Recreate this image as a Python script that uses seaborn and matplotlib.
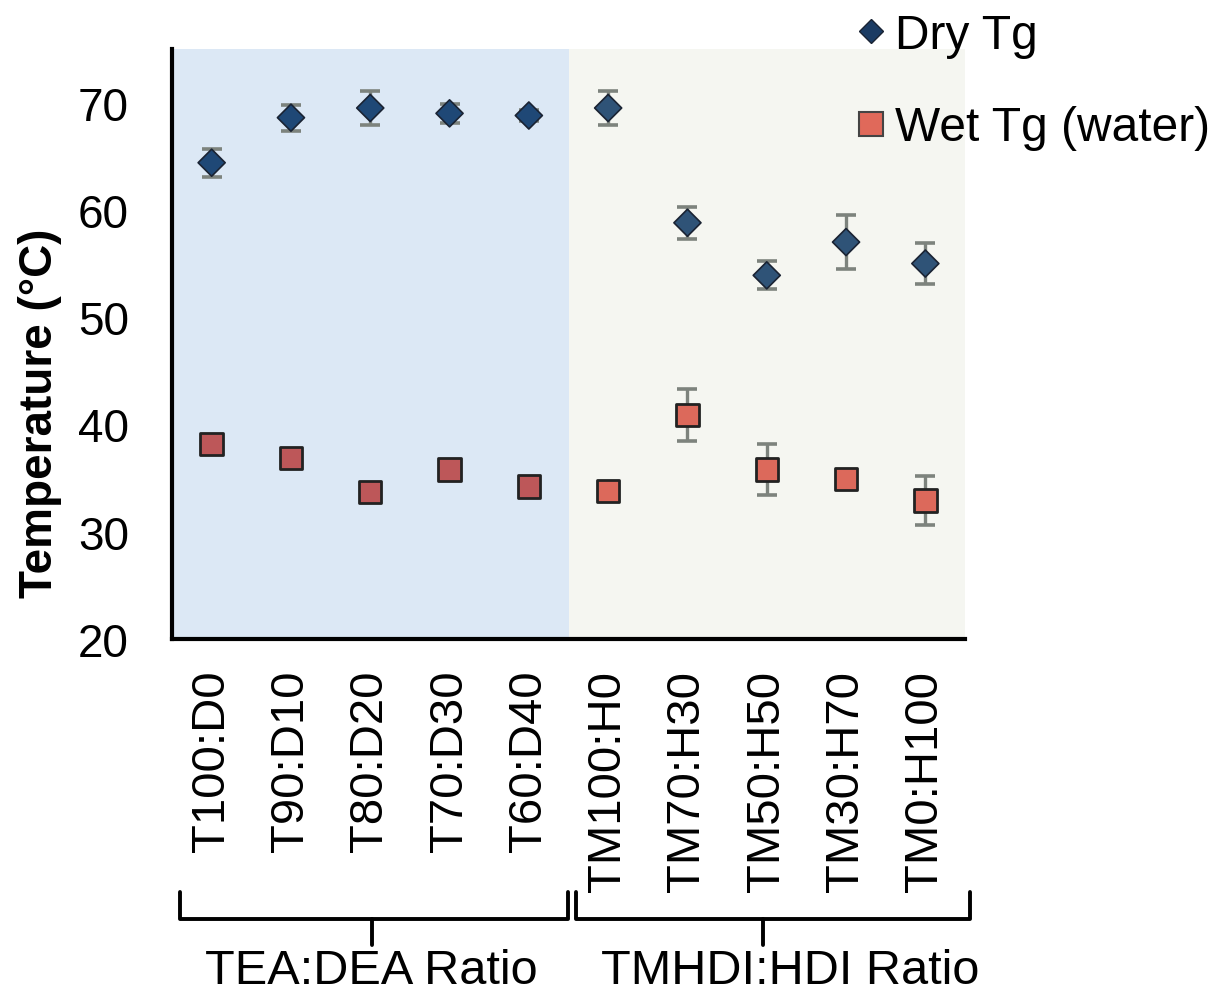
import numpy as np
import pandas as pd
import matplotlib
matplotlib.use("Agg")
import matplotlib.pyplot as plt
import matplotlib.transforms as mtransforms
from matplotlib.lines import Line2D
import seaborn as sns

categories = ["T100:D0", "T90:D10", "T80:D20", "T70:D30", "T60:D40",
              "TM100:H0", "TM70:H30", "TM50:H50", "TM30:H70", "TM0:H100"]
groups = ["TEA:DEA"] * 5 + ["TMHDI:HDI"] * 5
dry_tg = [64.4, 68.6, 69.5, 69.0, 68.8, 69.5, 58.8, 53.9, 57.0, 55.0]
dry_err = [1.3, 1.2, 1.6, 0.9, 0.5, 1.6, 1.5, 1.3, 2.5, 1.9]
wet_tg = [38.2, 36.9, 33.7, 35.8, 34.2, 33.8, 40.9, 35.8, 34.9, 32.9]
wet_err = [0.5, 0.2, 0.5, 0.2, 0.2, 0.3, 2.4, 2.4, 0.2, 2.3]
group_labels = ["TEA:DEA Ratio", "TMHDI:HDI Ratio"]
series_names = ["Dry Tg", "Wet Tg (water)"]

df = pd.DataFrame({
    "category": categories * 2,
    "group": groups * 2,
    "value": dry_tg + wet_tg,
    "err": dry_err + wet_err,
    "series": [series_names[0]] * len(categories) + [series_names[1]] * len(categories),
})

sns.set_style("white")
plt.rcParams["font.family"] = ["Liberation Sans", "DejaVu Sans"]
plt.rcParams["text.color"] = "black"
plt.rcParams["xtick.color"] = "black"
plt.rcParams["ytick.color"] = "black"
plt.rcParams["axes.labelcolor"] = "black"

fig = plt.figure(figsize=(12.17, 9.95), dpi=100)
ax = fig.add_axes([172 / 1217, 1 - 640 / 995, (965 - 172) / 1217, (640 - 50) / 995])

n = len(categories)
ax.axvspan(-0.5, 4.5, color="#dce8f5", zorder=0, lw=0)
ax.axvspan(4.5, n - 0.5, color="#f5f6f1", zorder=0, lw=0)

xpos = np.arange(n)
ax.errorbar(xpos, dry_tg, yerr=dry_err, fmt="none", ecolor="#7d837d",
            elinewidth=2.4, capsize=7, capthick=2.6, zorder=2)
ax.errorbar(xpos, wet_tg, yerr=wet_err, fmt="none", ecolor="#7d837d",
            elinewidth=2.4, capsize=7, capthick=2.6, zorder=2)

sns.scatterplot(data=df[df.series == series_names[0]], x="category", y="value",
                hue="group", palette={"TEA:DEA": "#1f4876", "TMHDI:HDI": "#2f5377"},
                marker="D", s=190, edgecolor="#1a2333",
                linewidth=1.2, ax=ax, zorder=3, legend=False)
sns.scatterplot(data=df[df.series == series_names[1]], x="category", y="value",
                hue="group", palette={"TEA:DEA": "#bd5759", "TMHDI:HDI": "#dc695b"},
                marker="s", s=260, edgecolor="#222222",
                linewidth=2.0, ax=ax, zorder=3, legend=False)

ax.set_xlim(-0.5, n - 0.5)
ax.set_ylim(20, 75)
ax.set_yticks([20, 30, 40, 50, 60, 70])
ax.set_xticks(xpos)
ax.set_xticklabels(categories, rotation=90, fontsize=34)
ax.set_xticks(np.arange(-0.5, n, 1.0), minor=True)
ax.tick_params(axis="x", which="major", length=0, pad=22)
ax.tick_params(axis="x", which="minor", length=13, width=3, direction="out", color="black")
ax.tick_params(axis="y", which="major", length=10, width=3, direction="out",
               labelsize=33, pad=21, color="black")
ax.set_xlabel("")
ax.set_ylabel("Temperature (°C)", fontsize=33, fontweight="bold")
ax.yaxis.set_label_coords(-0.139, 0.385)

for side in ["top", "right"]:
    ax.spines[side].set_visible(False)
for side in ["left", "bottom"]:
    ax.spines[side].set_visible(True)
    ax.spines[side].set_linewidth(3)
    ax.spines[side].set_color("black")

# group brackets
trans = mtransforms.blended_transform_factory(ax.transData, fig.transFigure)
y_top = 1 - 893 / 995
y_bot = 1 - 920 / 995
y_stem = 1 - 946 / 995
brackets = [(-0.4, 4.49, 2.02), (4.6, 9.56, 6.95)]
for (x0, x1, xm), lab in zip(brackets, group_labels):
    ax.add_line(Line2D([x0, x0, x1, x1], [y_top, y_bot, y_bot, y_top],
                       transform=trans, color="black", lw=2.8, clip_on=False,
                       solid_joinstyle="round"))
    ax.add_line(Line2D([xm, xm], [y_bot, y_stem], transform=trans,
                       color="black", lw=2.8, clip_on=False))
fig.text(371 / 1217, 1 - 972 / 995, group_labels[0], ha="center", va="center", fontsize=35)
fig.text(790 / 1217, 1 - 972 / 995, group_labels[1], ha="center", va="center", fontsize=35)

handles = [
    Line2D([], [], marker="D", ls="none", markersize=12, markerfacecolor="#1b3b63",
           markeredgecolor="#1a2333", markeredgewidth=1.0),
    Line2D([], [], marker="s", ls="none", markersize=17, markerfacecolor="#e0695a",
           markeredgecolor="#444444", markeredgewidth=1.5),
]
leg = fig.legend(handles, series_names, loc="upper left",
                 bbox_to_anchor=(823 / 1217, 1 + 20 / 995), frameon=False,
                 fontsize=34.5, handlelength=0.6, handletextpad=0.2,
                 labelspacing=1.0, borderpad=0.2)

fig.savefig("out.png", dpi=100)
